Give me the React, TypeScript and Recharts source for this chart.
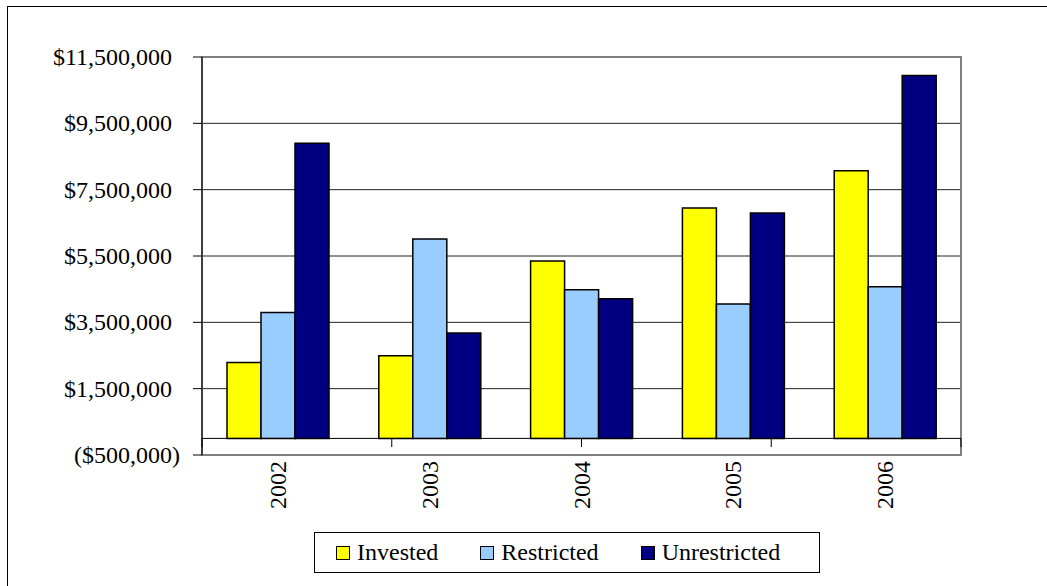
import React from "react";
import { BarChart, Bar, XAxis, YAxis, CartesianGrid, ReferenceLine, ReferenceArea } from "recharts";

const years = ["2002", "2003", "2004", "2005", "2006"];
const invested = [2290000, 2490000, 5350000, 6950000, 8070000];
const restricted = [3800000, 6010000, 4480000, 4050000, 4570000];
const unrestricted = [8900000, 3180000, 4210000, 6800000, 10940000];
const yTicks = [-500000, 1500000, 3500000, 5500000, 7500000, 9500000, 11500000];

const series = [
  { key: "invested", name: "Invested", color: "#FFFF00" },
  { key: "restricted", name: "Restricted", color: "#99CCFF" },
  { key: "unrestricted", name: "Unrestricted", color: "#000080" },
];

const data = years.map((year, i) => ({
  year,
  invested: invested[i],
  restricted: restricted[i],
  unrestricted: unrestricted[i],
}));

// category boundaries for the little ticks on the zero line
const boundaries = years.map((_, i) => i).concat(years.length);

const FONT = '"Liberation Serif"';

function money(v: number) {
  const s = "$" + Math.abs(v).toLocaleString("en-US");
  return v < 0 ? "(" + s + ")" : s;
}

function YTick(props: any) {
  const { x, y, payload } = props;
  const v = payload.value as number;
  return (
    <text x={x} y={y} textAnchor="end" dominantBaseline="central" fontFamily="Liberation Serif" fontSize={24} fill="#000">
      {money(v)}
      {v >= 0 && <tspan fill="transparent">)</tspan>}
    </text>
  );
}

function XTick(props: any) {
  const { x, y, payload } = props;
  return (
    <text
      x={x}
      y={y}
      transform={`rotate(-90 ${x} ${y})`}
      textAnchor="end"
      dominantBaseline="central"
      fontFamily="Liberation Serif"
      fontSize={24}
      fill="#000"
    >
      {payload.value}
    </text>
  );
}

export default function App() {
  return (
    <div style={{ position: "absolute", left: 0, top: 0, width: 1047, height: 586, overflow: "hidden", background: "#fff" }}>
      <div style={{ position: "absolute", left: 7, top: 6, width: 1100, height: 700, border: "1px solid #000" }} />
      <div style={{ position: "absolute", left: 0, top: 0 }}>
        <BarChart
          width={1047}
          height={586}
          data={data}
          margin={{ top: 57, right: 86, left: 0, bottom: 71 }}
          barSize={34}
          barGap={0}
        >
          <CartesianGrid vertical={false} stroke="#222" strokeWidth={1} />
          <XAxis
            dataKey="year"
            axisLine={false}
            tickLine={false}
            tickSize={0}
            tickMargin={6}
            height={60}
            interval={0}
            tick={<XTick />}
          />
          <XAxis xAxisId="edges" type="number" domain={[0, years.length]} hide />
          <YAxis
            domain={[-500000, 11500000]}
            ticks={yTicks}
            interval={0}
            width={202}
            axisLine={{ stroke: "#000" }}
            tickLine={{ stroke: "#000" }}
            tickSize={9}
            tickMargin={13}
            tick={<YTick />}
          />
          <ReferenceArea y1={-500000} y2={11500000} fill="none" stroke="#808080" strokeWidth={2} />
          {series.map((s) => (
            <Bar key={s.key} dataKey={s.key} name={s.name} fill={s.color} stroke="#000" strokeWidth={1.5} isAnimationActive={false} />
          ))}
          <ReferenceLine y={0} stroke="#000" strokeWidth={1} />
          {boundaries.map((b) => (
            <ReferenceLine
              key={b}
              xAxisId="edges"
              segment={[
                { x: b, y: 0 },
                { x: b, y: -260000 },
              ]}
              stroke="#000"
              strokeWidth={1}
              ifOverflow="extendDomain"
            />
          ))}
        </BarChart>
      </div>
      <div
        style={{
          position: "absolute",
          left: 314,
          top: 532,
          width: 483,
          height: 39,
          border: "1px solid #000",
          display: "flex",
          alignItems: "center",
          paddingLeft: 21,
          boxSizing: "content-box",
          fontFamily: FONT,
          fontSize: 24,
          color: "#000",
        }}
      >
        {series.map((s) => (
          <div key={s.key} style={{ display: "flex", alignItems: "center", marginRight: 42 }}>
            <span style={{ width: 12, height: 12, background: s.color, border: "1.5px solid #000", marginRight: 7, display: "inline-block" }} />
            <span>{s.name}</span>
          </div>
        ))}
      </div>
    </div>
  );
}
